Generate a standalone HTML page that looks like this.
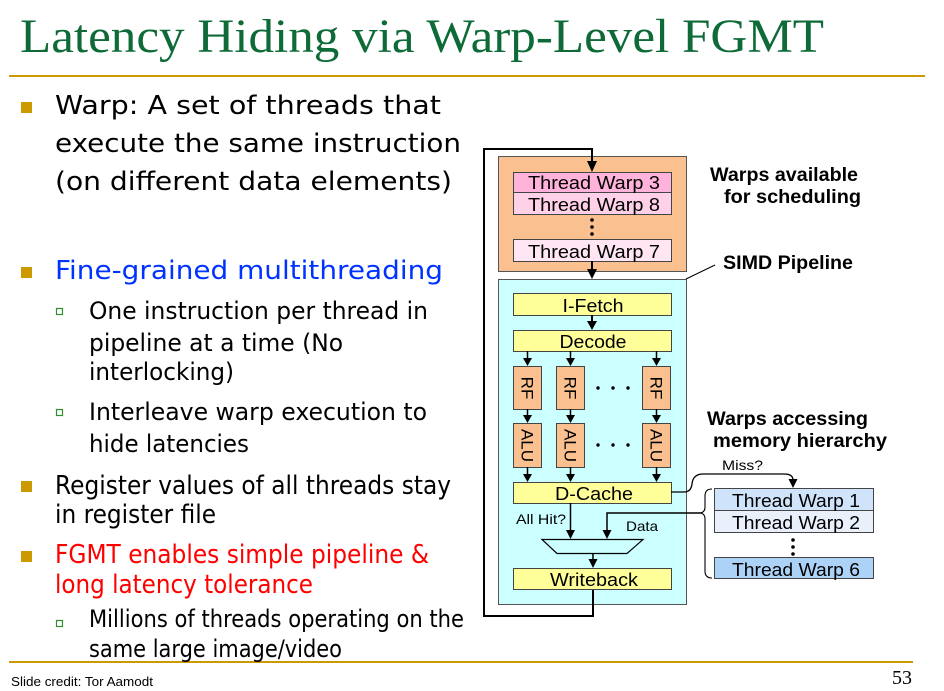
<!DOCTYPE html>
<html><head><meta charset="utf-8"><style>
html,body{margin:0;padding:0;background:#fff;}
svg{display:block;}
.t{font-family:"DejaVu Sans","Liberation Sans",sans-serif;}
.a{font-family:"Liberation Sans",Arial,sans-serif;}
</style></head><body>
<svg width="944" height="691" viewBox="0 0 944 691" xmlns="http://www.w3.org/2000/svg">
<rect width="944" height="691" fill="#fff"/>
<!-- title -->
<text x="20" y="52" font-family="Liberation Serif, serif" font-size="48" fill="#0e6b38" textLength="804" lengthAdjust="spacingAndGlyphs">Latency Hiding via Warp-Level FGMT</text>
<rect x="9" y="75" width="916" height="2" fill="#cc9900"/>
<rect x="9" y="661" width="904" height="2" fill="#cc9900"/>

<!-- bullets -->
<g fill="#cc9900">
<rect x="21" y="102" width="11" height="11"/>
<rect x="21" y="267" width="11" height="11"/>
<rect x="21" y="481" width="11" height="11"/>
<rect x="21" y="551" width="11" height="11"/>
</g>
<g fill="#fff" stroke="#2f8f2f" stroke-width="1.2">
<rect x="56.5" y="308.5" width="6" height="6"/>
<rect x="56.5" y="409.5" width="6" height="6"/>
<rect x="56.5" y="620.5" width="6" height="6"/>
</g>

<g class="t" font-size="26" fill="#000">
<text x="55" y="114" textLength="386" lengthAdjust="spacingAndGlyphs">Warp: A set of threads that</text>
<text x="55" y="152" textLength="406" lengthAdjust="spacingAndGlyphs">execute the same instruction</text>
<text x="55" y="190" textLength="397" lengthAdjust="spacingAndGlyphs">(on different data elements)</text>
<text x="55" y="279" textLength="388" lengthAdjust="spacingAndGlyphs" fill="#0033ff">Fine-grained multithreading</text>
<text x="55" y="494" textLength="396" lengthAdjust="spacingAndGlyphs">Register values of all threads stay</text>
<text x="55" y="523" textLength="161" lengthAdjust="spacingAndGlyphs">in register file</text>
<text x="55" y="563" textLength="374" lengthAdjust="spacingAndGlyphs" fill="#ff0000">FGMT enables simple pipeline &amp;</text>
<text x="55" y="593" textLength="258" lengthAdjust="spacingAndGlyphs" fill="#ff0000">long latency tolerance</text>
</g>
<g class="t" font-size="24" fill="#000">
<text x="89" y="319" textLength="339" lengthAdjust="spacingAndGlyphs">One instruction per thread in</text>
<text x="89" y="351" textLength="254" lengthAdjust="spacingAndGlyphs">pipeline at a time (No</text>
<text x="89" y="380" textLength="145" lengthAdjust="spacingAndGlyphs">interlocking)</text>
<text x="89" y="420" textLength="338" lengthAdjust="spacingAndGlyphs">Interleave warp execution to</text>
<text x="89" y="452" textLength="160" lengthAdjust="spacingAndGlyphs">hide latencies</text>
<text x="89" y="627" textLength="375" lengthAdjust="spacingAndGlyphs">Millions of threads operating on the</text>
<text x="89" y="657" textLength="253" lengthAdjust="spacingAndGlyphs">same large image/video</text>
</g>

<text x="11" y="686" class="a" font-size="13" fill="#000" textLength="142" lengthAdjust="spacingAndGlyphs">Slide credit: Tor Aamodt</text>
<text x="892" y="684" font-family="Liberation Serif, serif" font-size="20" fill="#000" textLength="20" lengthAdjust="spacingAndGlyphs">53</text>

<!-- DIAGRAM -->
<rect x="498.5" y="156.5" width="188" height="115" fill="#fac090" stroke="#555" stroke-width="1"/>
<rect x="498.5" y="279.5" width="188" height="325" fill="#ccffff" stroke="#555" stroke-width="1"/>

<!-- feedback loop -->
<polyline points="593,589 593,616 484,616 484,149 592,149 592,162" fill="none" stroke="#000" stroke-width="2"/>
<polygon points="587,161 597,161 592,172" fill="#000"/>

<!-- pink warps -->
<g stroke="#444" stroke-width="1">
<rect x="513.5" y="172.5" width="158" height="20" fill="#ffb3da"/>
<rect x="513.5" y="192.5" width="158" height="22" fill="#ffd1e8"/>
<rect x="513.5" y="239.5" width="158" height="22" fill="#ffe6f2"/>
</g>
<g fill="#000">
<circle cx="592" cy="220" r="1.8"/><circle cx="592" cy="227" r="1.8"/><circle cx="592" cy="234" r="1.8"/>
</g>
<g class="a" font-size="18.5" fill="#000" text-anchor="middle">
<text x="594" y="189" textLength="132" lengthAdjust="spacingAndGlyphs">Thread Warp 3</text>
<text x="594" y="211" textLength="132" lengthAdjust="spacingAndGlyphs">Thread Warp 8</text>
<text x="594" y="258" textLength="132" lengthAdjust="spacingAndGlyphs">Thread Warp 7</text>
</g>
<line x1="592" y1="261" x2="592" y2="270" stroke="#000" stroke-width="2"/>
<polygon points="587,269 597,269 592,279" fill="#000"/>

<!-- pipeline stages -->
<g stroke="#444" stroke-width="1" fill="#ffff99">
<rect x="513.5" y="293.5" width="158" height="22"/>
<rect x="513.5" y="330.5" width="158" height="21"/>
<rect x="513.5" y="482.5" width="158" height="21"/>
<rect x="513.5" y="568.5" width="158" height="21"/>
</g>
<line x1="592" y1="315" x2="592" y2="322" stroke="#000" stroke-width="2"/>
<polygon points="587,321 597,321 592,330" fill="#000"/>

<g class="a" font-size="18" fill="#000" text-anchor="middle">
<text x="593" y="312" textLength="61" lengthAdjust="spacingAndGlyphs">I-Fetch</text>
<text x="593" y="348" textLength="67" lengthAdjust="spacingAndGlyphs">Decode</text>
<text x="594" y="500" textLength="78" lengthAdjust="spacingAndGlyphs">D-Cache</text>
<text x="594" y="586" textLength="88" lengthAdjust="spacingAndGlyphs">Writeback</text>
</g>

<!-- RF / ALU -->
<g stroke="#444" stroke-width="1" fill="#fac090">
<rect x="513.5" y="366.5" width="28" height="43"/>
<rect x="556.5" y="366.5" width="28" height="43"/>
<rect x="642.5" y="366.5" width="28" height="43"/>
<rect x="513.5" y="423.5" width="28" height="44"/>
<rect x="556.5" y="423.5" width="28" height="44"/>
<rect x="642.5" y="423.5" width="28" height="44"/>
</g>
<g class="a" font-size="17" fill="#000" text-anchor="middle">
<text transform="translate(527.5,388) rotate(90)" y="6">RF</text>
<text transform="translate(570.5,388) rotate(90)" y="6">RF</text>
<text transform="translate(656.5,388) rotate(90)" y="6">RF</text>
<text transform="translate(527.5,445.5) rotate(90)" y="6">ALU</text>
<text transform="translate(570.5,445.5) rotate(90)" y="6">ALU</text>
<text transform="translate(656.5,445.5) rotate(90)" y="6">ALU</text>
</g>
<g fill="#000">
<circle cx="598" cy="388" r="1.7"/><circle cx="613" cy="388" r="1.7"/><circle cx="628" cy="388" r="1.7"/>
<circle cx="598" cy="445" r="1.7"/><circle cx="613" cy="445" r="1.7"/><circle cx="628" cy="445" r="1.7"/>
</g>
<g stroke="#000" stroke-width="1.5">
<line x1="527.5" y1="351" x2="527.5" y2="359"/>
<line x1="570.5" y1="351" x2="570.5" y2="359"/>
<line x1="656.5" y1="351" x2="656.5" y2="359"/>
<line x1="527.5" y1="409" x2="527.5" y2="416"/>
<line x1="570.5" y1="409" x2="570.5" y2="416"/>
<line x1="656.5" y1="409" x2="656.5" y2="416"/>
<line x1="527.5" y1="467" x2="527.5" y2="475"/>
<line x1="570.5" y1="467" x2="570.5" y2="475"/>
<line x1="656.5" y1="467" x2="656.5" y2="475"/>
</g>
<g fill="#000">
<polygon points="523,358 532,358 527.5,366"/>
<polygon points="566,358 575,358 570.5,366"/>
<polygon points="652,358 661,358 656.5,366"/>
<polygon points="523,415 532,415 527.5,423"/>
<polygon points="566,415 575,415 570.5,423"/>
<polygon points="652,415 661,415 656.5,423"/>
<polygon points="523,474 532,474 527.5,482"/>
<polygon points="566,474 575,474 570.5,482"/>
<polygon points="652,474 661,474 656.5,482"/>
</g>

<!-- All hit / data / mux -->
<line x1="570.5" y1="503" x2="570.5" y2="531" stroke="#000" stroke-width="1.5"/>
<polygon points="566,530 575,530 570.5,539" fill="#000"/>
<polyline points="700,513 607,513 607,531" fill="none" stroke="#000" stroke-width="1.5"/>
<polygon points="602.5,530 611.5,530 607,539" fill="#000"/>
<polygon points="542,539.5 643,539.5 627,553.5 557,553.5" fill="#ccffff" stroke="#000" stroke-width="1.2"/>
<line x1="593" y1="553" x2="593" y2="560" stroke="#000" stroke-width="1.5"/>
<polygon points="588.5,559 597.5,559 593,568" fill="#000"/>
<g class="a" font-size="14" fill="#000">
<text x="516" y="524" textLength="50" lengthAdjust="spacingAndGlyphs">All Hit?</text>
<text x="626" y="531" textLength="32" lengthAdjust="spacingAndGlyphs">Data</text>
<text x="722" y="470" textLength="41" lengthAdjust="spacingAndGlyphs">Miss?</text>
</g>

<!-- miss path -->
<path d="M671,492 L684,492 Q691,492 692,484 Q693,474 703,474 L784,474 Q793,474 793,480" fill="none" stroke="#000" stroke-width="1.3"/>
<polygon points="788.5,479 797.5,479 793,488" fill="#000"/>

<!-- brace -->
<path d="M712,489 Q705,489 705,496 L705,507 Q705,513 699,513 Q705,513 705,519 L705,571 Q705,578 712,578" fill="none" stroke="#000" stroke-width="1.1"/>

<!-- blue warps -->
<g stroke="#444" stroke-width="1">
<rect x="714.5" y="488.5" width="159" height="22" fill="#cfe3fa"/>
<rect x="714.5" y="510.5" width="159" height="22" fill="#e9f0fc"/>
<rect x="714.5" y="557.5" width="159" height="21" fill="#add2f7"/>
</g>
<g fill="#000">
<circle cx="793" cy="540" r="1.8"/><circle cx="793" cy="547" r="1.8"/><circle cx="793" cy="554" r="1.8"/>
</g>
<g class="a" font-size="18.5" fill="#000" text-anchor="middle">
<text x="796" y="507" textLength="128" lengthAdjust="spacingAndGlyphs">Thread Warp 1</text>
<text x="796" y="529" textLength="128" lengthAdjust="spacingAndGlyphs">Thread Warp 2</text>
<text x="796" y="576" textLength="128" lengthAdjust="spacingAndGlyphs">Thread Warp 6</text>
</g>

<!-- right labels -->
<g class="a" font-size="19" font-weight="bold" fill="#000">
<text x="710" y="181" textLength="148" lengthAdjust="spacingAndGlyphs">Warps available</text>
<text x="724" y="203" textLength="137" lengthAdjust="spacingAndGlyphs">for scheduling</text>
<text x="723" y="269" textLength="130" lengthAdjust="spacingAndGlyphs">SIMD Pipeline</text>
<text x="707" y="425" textLength="161" lengthAdjust="spacingAndGlyphs">Warps accessing</text>
<text x="713" y="447" textLength="174" lengthAdjust="spacingAndGlyphs">memory hierarchy</text>
</g>
<line x1="715" y1="265" x2="686" y2="279" stroke="#000" stroke-width="1"/>
</svg>
</body></html>
